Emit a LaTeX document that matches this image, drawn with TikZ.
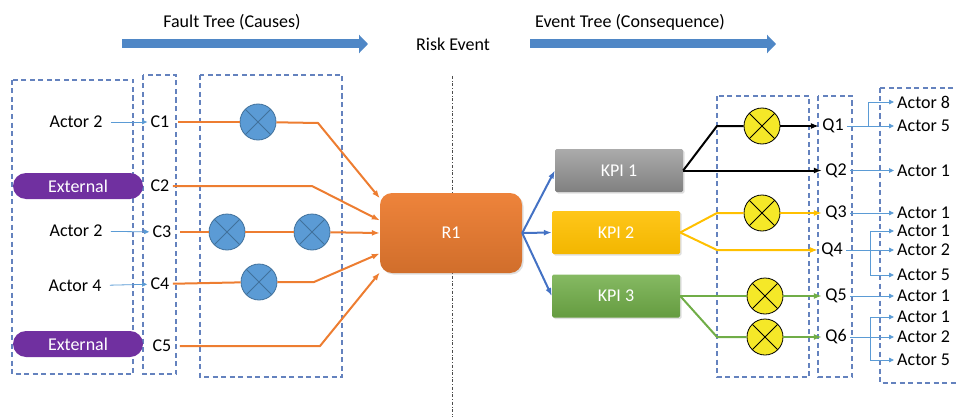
\documentclass[tikz,border=0pt]{standalone}
\usepackage{fontspec}
\setmainfont{Carlito}
\usepackage{tikz}
\usetikzlibrary{calc}
\usetikzlibrary{arrows.meta,backgrounds,shapes,shadows}
\usetikzlibrary{positioning}
\definecolor{grpblue}{RGB}{100,130,190}
\definecolor{bigblue}{RGB}{79,135,198}
\definecolor{xfill}{RGB}{91,155,213}
\definecolor{xedge}{RGB}{65,113,156}
\definecolor{orline}{RGB}{237,125,49}
\definecolor{kpiblue}{RGB}{68,114,196}
\definecolor{extpurple}{RGB}{112,48,160}
\definecolor{bulbyellow}{RGB}{245,232,40}
\definecolor{kpiyellow}{RGB}{255,192,0}
\definecolor{kpigreen}{RGB}{112,173,71}
\definecolor{thinblue}{RGB}{91,155,213}
\tikzset{
  grpbox/.style={draw=grpblue,dash pattern=on 5pt off 3.5pt,line width=1.1pt},
  bigarrow/.style={draw=bigblue,line width=9pt,-{Triangle[length=9pt,width=18pt]}},
  xgate/.style n args={2}{circle,draw=#1,fill=#2,line width=0.8pt,minimum size=36pt,inner sep=0pt,
    path picture={\draw[#1,line width=0.8pt] (path picture bounding box.north west) -- (path picture bounding box.south east)
      (path picture bounding box.south west) -- (path picture bounding box.north east);}},
  ext/.style={rounded rectangle,fill=extpurple,text=white,minimum width=130pt,minimum height=26pt,inner sep=0pt},
  kpibox/.style={rectangle,rounded corners=1.5pt,text=white,minimum width=128pt,minimum height=43pt,
    drop shadow={opacity=0.25,shadow xshift=1.5pt,shadow yshift=-1.5pt}},
  tip/.style={-{Latex[length=8pt,width=6pt]}},
  oline/.style={draw=orline,line width=2pt},
  bline/.style={draw=kpiblue,line width=2pt},
  kline/.style={draw=black,line width=2pt},
  yline/.style={draw=kpiyellow,line width=2pt},
  gline/.style={draw=kpigreen,line width=2pt},
  aline/.style={draw=thinblue,line width=0.8pt,-{Triangle[length=5pt,width=4.5pt]}},
  actor/.style={anchor=west,inner sep=3pt},
}
\begin{document}
\begin{tikzpicture}[x=1pt,y=-1pt,font=\fontsize{18}{21}\selectfont]
\useasboundingbox (0,0) rectangle (957,417);
\node (ft) at (232,22) {Fault Tree (Causes)};
\node (et) at (630,22) {Event Tree (Consequence)};
\node (re) at (453,44) {Risk Event};
\coordinate (fa1) at (122,44); \coordinate (fa2) at (368,44);
\coordinate (ea1) at (530,44); \coordinate (ea2) at (776,44);
\draw[bigarrow] (fa1) -- (fa2);
\draw[bigarrow] (ea1) -- (ea2);
\coordinate (d1) at (452,76); \coordinate (d2) at (452,417);
\draw[dash dot,draw=black!70,line width=0.8pt] (d1) -- (d2);

\draw[grpbox] (12,80) rectangle (133,374);
\draw[grpbox] (143,75) rectangle (176,374);
\draw[grpbox] (200,75) rectangle (342,377);
\draw[grpbox] (717,96) rectangle (809,377);
\draw[grpbox] (818,96) rectangle (852,377);
\draw[grpbox] (880,88) rectangle (970,383);

\node (la1) at (76,122) {Actor 2};
\node[ext] (ex1) at (78,186) {External};
\node (la3) at (76,231) {Actor 2};
\node (la4) at (75,286) {Actor 4};
\node[ext] (ex2) at (78,344) {External};
\node (C1) at (160,122) {C1};
\node (C2) at (160,186) {C2};
\node (C3) at (162,232) {C3};
\node (C4) at (160,284) {C4};
\node (C5) at (162,346) {C5};
\draw[aline,shorten <=5pt] (la1) -- (C1);
\draw[aline,shorten <=5pt] (la3) -- (C3);
\draw[aline,shorten <=5pt] (la4) -- (C4);

\node[rectangle,rounded corners=12pt,minimum width=142pt,minimum height=80pt,text=white,
  top color=orline!95!white,bottom color=orline!88!black,
  drop shadow={opacity=0.25,shadow xshift=1.5pt,shadow yshift=-1.5pt}] (R1) at (451,233) {R1};

\node[xgate={xedge}{xfill}] (x1) at (258,122) {};
\node[xgate={xedge}{xfill}] (x3a) at (227,232) {};
\node[xgate={xedge}{xfill}] (x3b) at (312,232) {};
\node[xgate={xedge}{xfill}] (x4) at (259,282) {};
\coordinate (k1) at (318,123);
\coordinate (k2) at (312,186);
\coordinate (k4) at (314,282);
\coordinate (k5) at (320,346);
\draw[oline,shorten <=5pt] (C1) -- (x1);
\draw[oline,tip] (x1) -- (k1) -- (R1.154);
\draw[oline,tip] (C2) -- (k2) -- (R1.170);
\draw[oline,shorten <=5pt] (C3) -- (x3a);
\draw[oline] (x3a) -- (x3b);
\draw[oline,tip] (x3b) -- (R1.west);
\draw[oline] (C4) -- (x4);
\draw[oline,tip] (x4) -- (k4) -- (R1.196);
\draw[oline,tip,shorten <=5pt] (C5) -- (k5) -- (R1.209);

\node[kpibox,top color=black!33,bottom color=black!50] (KPI1) at (619,170.5) {KPI 1};
\node[kpibox,top color=kpiyellow!90!white,bottom color=kpiyellow!95!black] (KPI2) at (616,232.5) {KPI 2};
\node[kpibox,top color=kpigreen!85!white,bottom color=kpigreen!90!black] (KPI3) at (616,296) {KPI 3};
\draw[bline,tip] (R1.east) -- (KPI1.west);
\draw[bline,tip] (R1.east) -- (KPI2.west);
\draw[bline,tip] (R1.east) -- (KPI3.west);

\node (Q1) at (833,126) {Q1};
\node (Q2) at (836,170.5) {Q2};
\node (Q3) at (836,213) {Q3};
\node (Q4) at (832,250) {Q4};
\node (Q5) at (836,296) {Q5};
\node (Q6) at (836,337) {Q6};
\node[xgate={black}{bulbyellow}] (y1) at (762,126) {};
\node[xgate={black}{bulbyellow}] (y2) at (762,213) {};
\node[xgate={black}{bulbyellow}] (y3) at (765,296) {};
\node[xgate={black}{bulbyellow}] (y4) at (765,337) {};
\coordinate (t1) at (717,126);
\coordinate (t3) at (717,213);
\coordinate (t4) at (717,250);
\coordinate (t6) at (717,337);
\draw[kline] (KPI1.east) -- (t1) -- (y1);
\draw[kline,tip] (y1) -- (Q1);
\draw[kline,tip] (KPI1.east) -- (Q2);
\draw[yline] (KPI2.east) -- (t3) -- (y2);
\draw[yline,tip] (y2) -- (Q3);
\draw[yline,tip] (KPI2.east) -- (t4) -- (Q4);
\draw[gline] (KPI3.east) -- (y3);
\draw[gline,tip] (y3) -- (Q5);
\draw[gline] (KPI3.east) -- (t6) -- (y4);
\draw[gline,tip] (y4) -- (Q6);

\node[actor] (a1) at (894,102) {Actor 8};
\node[actor] (a2) at (894,126) {Actor 5};
\node[actor] (a3) at (894,170.5) {Actor 1};
\node[actor] (a4) at (894,213) {Actor 1};
\node[actor] (a5) at (894,231) {Actor 1};
\node[actor] (a6) at (894,250) {Actor 2};
\node[actor] (a7) at (894,275) {Actor 5};
\node[actor] (a8) at (894,296) {Actor 1};
\node[actor] (a9) at (894,317) {Actor 1};
\node[actor] (a10) at (894,337) {Actor 2};
\node[actor] (a11) at (894,360) {Actor 5};
\draw[aline] (Q1.east) -- ++(21,0) |- (a1.west);
\draw[aline] (Q1.east) -- (a2.west);
\draw[aline] (Q2.east) -- (a3.west);
\draw[aline] (Q3.east) -- (a4.west);
\draw[aline] (Q4.east) -- ++(24,0) |- (a5.west);
\draw[aline] (Q4.east) -- (a6.west);
\draw[aline] (Q4.east) -- ++(24,0) |- (a7.west);
\draw[aline] (Q5.east) -- (a8.west);
\draw[aline] (Q6.east) -- ++(20,0) |- (a9.west);
\draw[aline] (Q6.east) -- (a10.west);
\draw[aline] (Q6.east) -- ++(20,0) |- (a11.west);
\end{tikzpicture}
\end{document}
